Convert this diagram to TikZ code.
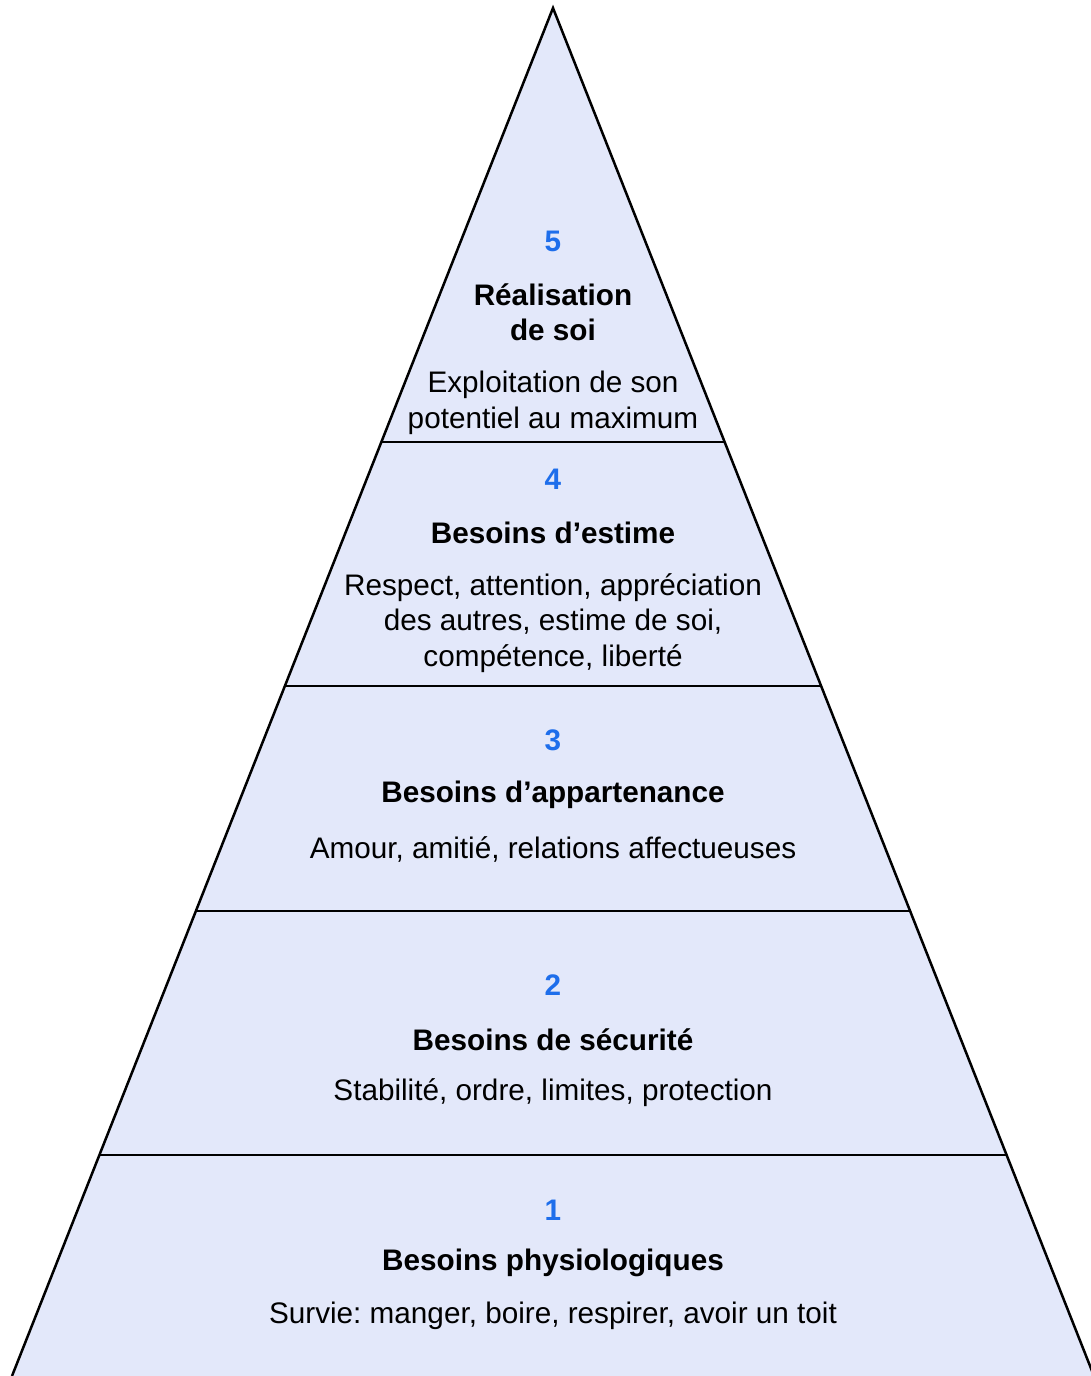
\documentclass[tikz,border=0pt]{standalone}
\usepackage{fontspec}
\setmainfont{Liberation Sans}
\frenchspacing
\usetikzlibrary{calc}
\definecolor{pyrfill}{RGB}{227,232,250}
\definecolor{lvlblue}{RGB}{30,110,235}
\tikzset{
  levelnum/.style={text=lvlblue, font=\bfseries\fontsize{29.7}{35}\selectfont},
  leveltitle/.style={align=center, font=\bfseries\fontsize{29.7}{35}\selectfont},
  leveltext/.style={align=center, font=\fontsize{29.7}{35.5}\selectfont},
}
\begin{document}
\begin{tikzpicture}[x=1pt,y=-1pt]
  \useasboundingbox (0,0) rectangle (1091,1376);
  \coordinate (apex) at (553,8);
  \coordinate (bl) at (12,1376);
  \coordinate (br) at (1094,1376);

  % Pyramid
  \fill[pyrfill] (apex) -- (bl) -- (br) -- cycle;
  \draw[line width=2.5pt, line join=miter] (bl) -- (apex) -- (br);

  % Dividers between levels
  \foreach \t in {0.3173,0.4956,0.6601,0.8385}
    \draw[line width=2.2pt] ($(apex)!\t!(bl)$) -- ($(apex)!\t!(br)$);

  % Level 5
  \node[levelnum] (num5) at (553,241) {5};
  \node[leveltitle] (title5) at (553,312) {Réalisation\\de soi};
  \node[leveltext] (text5) at (553,403) {Exploitation de son\\potentiel au maximum};

  % Level 4
  \node[levelnum] (num4) at (553,479) {4};
  \node[leveltitle] (title4) at (553,533) {Besoins d’estime};
  \node[leveltext] (text4) at (553,623) {Respect, attention, appréciation\\des autres, estime de soi,\\compétence, liberté};

  % Level 3
  \node[levelnum] (num3) at (553,740) {3};
  \node[leveltitle] (title3) at (553,795) {Besoins d’appartenance};
  \node[leveltext] (text3) at (553,849) {Amour, amitié, relations affectueuses};

  % Level 2
  \node[levelnum] (num2) at (553,985) {2};
  \node[leveltitle] (title2) at (553,1040) {Besoins de sécurité};
  \node[leveltext] (text2) at (553,1093) {Stabilité, ordre, limites, protection};

  % Level 1
  \node[levelnum] (num1) at (553,1210) {1};
  \node[leveltitle] (title1) at (553,1263) {Besoins physiologiques};
  \node[leveltext] (text1) at (553,1316) {Survie: manger, boire, respirer, avoir un toit};
\end{tikzpicture}
\end{document}
